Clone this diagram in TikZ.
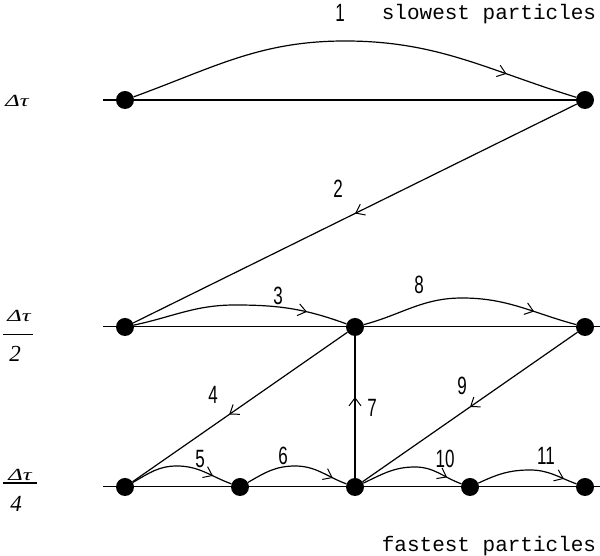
\documentclass[tikz,border=0pt]{standalone}
\usepackage{fontspec}
\setmonofont{Liberation Mono}
\newfontfamily\numfont{Liberation Sans}
\newfontfamily\grkfont{Liberation Serif}
\usetikzlibrary{arrows.meta,decorations.markings}
\tikzset{
  dot/.style={circle,fill=black,inner sep=0pt,minimum size=18pt},
  conn/.style={line width=1.2pt},
  midarrow/.style={postaction={decorate},decoration={markings,mark=at position #1 with {\arrow{Straight Barb[length=8pt,width=12pt,line width=1pt]}}}},
  num/.style={inner sep=0pt,font=\numfont\fontsize{25}{25}\selectfont},
  caption/.style={inner sep=0pt,font=\ttfamily\fontsize{21}{21}\selectfont},
  lvl/.style={inner sep=0pt,font=\grkfont\itshape\fontsize{17}{17}\selectfont},
  lvld/.style={inner sep=0pt,font=\grkfont\itshape\fontsize{23}{23}\selectfont},
}
\newcommand{\nx}[1]{\scalebox{0.68}[1]{#1}}
\newcommand{\dt}{\scalebox{1.45}[1]{Δτ}}
\begin{document}
\begin{tikzpicture}[x=1pt,y=1pt]
\useasboundingbox (0,0) rectangle (600,556);
% level lines
\coordinate (t0) at (103,456); \coordinate (t1) at (585,456);
\coordinate (m0) at (103,229); \coordinate (m1) at (600,229);
\coordinate (b0) at (103,69);  \coordinate (b1e) at (600,69);
\draw[line width=2pt] (t0) -- (t1);
\draw[line width=1pt] (m0) -- (m1);
\draw[line width=1pt] (b0) -- (b1e);
% dots
\node[dot] (a1) at (125,456) {};
\node[dot] (a2) at (585,456) {};
\node[dot] (b1) at (125,229) {};
\node[dot] (b2) at (355,229) {};
\node[dot] (b3) at (585,229) {};
\node[dot] (c1) at (125,69) {};
\node[dot] (c2) at (240,69) {};
\node[dot] (c3) at (355,69) {};
\node[dot] (c4) at (470,69) {};
\node[dot] (c5) at (585,69) {};
% curve peaks
\coordinate (p1) at (345,515);
\coordinate (p3) at (235,251);
\coordinate (p8) at (462,258);
\coordinate (p5) at (177,90);
\coordinate (p6) at (295,90);
\coordinate (p10) at (415,89);
\coordinate (p11) at (530,86);
% connectors
\draw[conn,midarrow=0.84] (a1) to[out=20,in=180] (p1) to[out=0,in=163] (a2);
\draw[conn,midarrow=0.5] (a2) -- (b1);
\draw[conn,midarrow=0.81] (b1) to[out=12,in=180] (p3) to[out=0,in=160] (b2);
\draw[conn,midarrow=0.55] (b2) -- (c1);
\draw[conn,midarrow=0.81] (c1) to[out=30,in=180] (p5) to[out=0,in=160] (c2);
\draw[conn,midarrow=0.86] (c2) to[out=30,in=180] (p6) to[out=0,in=160] (c3);
\draw[line width=1.5pt,midarrow=0.57] (c3) -- (b2);
\draw[conn,midarrow=0.8] (b2) to[out=15,in=180] (p8) to[out=0,in=165] (b3);
\draw[conn,midarrow=0.5] (b3) -- (c3);
\draw[conn,midarrow=0.85] (c3) to[out=25,in=180] (p10) to[out=0,in=160] (c4);
\draw[conn,midarrow=0.87] (c4) to[out=25,in=180] (p11) to[out=0,in=160] (c5);
% number labels
\node[num] (n1) at (340,543) {\nx{1}};
\node[num] (n2) at (338,367) {\nx{2}};
\node[num] (n3) at (278,260) {\nx{3}};
\node[num] (n8) at (419,271) {\nx{8}};
\node[num] (n4) at (213,161) {\nx{4}};
\node[num] (n5) at (200,97) {\nx{5}};
\node[num] (n6) at (283,100) {\nx{6}};
\node[num] (n7) at (372,148) {\nx{7}};
\node[num] (n9) at (462,170) {\nx{9}};
\node[num] (n10) at (445,97) {\nx{10}};
\node[num] (n11) at (546,100) {\nx{11}};
% captions
\node[caption] (cs) at (489,542) {slowest particles};
\node[caption] (cf) at (489,10) {fastest particles};
% level labels
\node[lvl] (l1) at (17,455) {\dt};
\node[lvl] (l2n) at (19,240) {\dt};
\draw[line width=1pt] (3,221) -- (33,221);
\node[lvld] (l2d) at (15,202) {2};
\node[lvl] (l4n) at (20,81) {\dt};
\draw[line width=2.5pt] (3,73) -- (37,73);
\node[lvld] (l4d) at (16,52) {4};
\end{tikzpicture}
\end{document}
